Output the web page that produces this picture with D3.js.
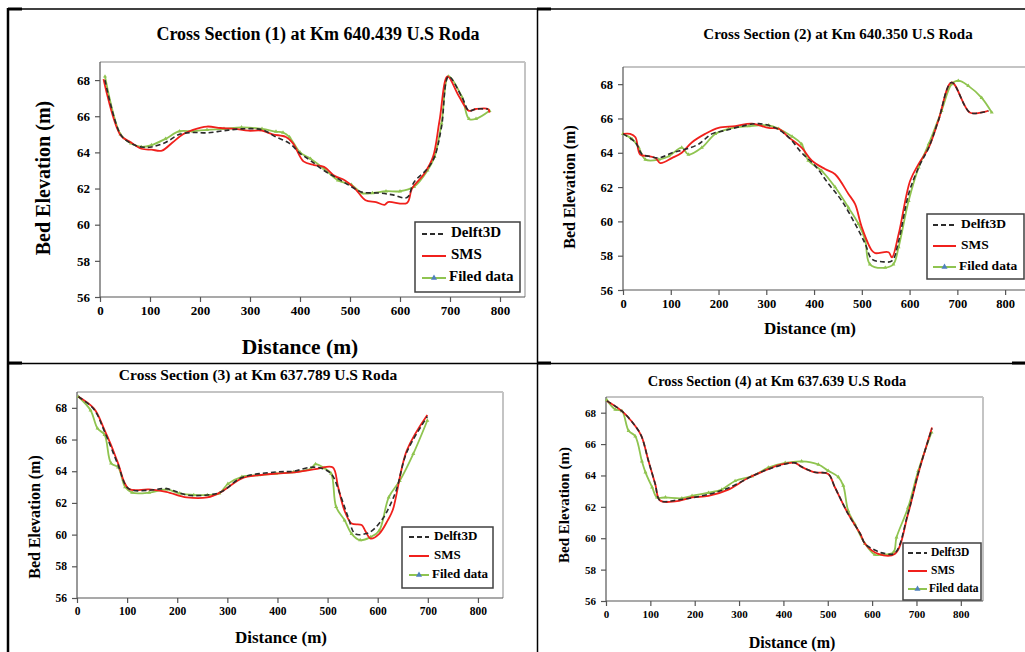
<!DOCTYPE html>
<html><head><meta charset="utf-8">
<script src="https://cdn.jsdelivr.net/npm/d3@7"></script>
<style>
html,body{margin:0;padding:0;background:#fff;}
svg{display:block;}
</style></head>
<body>
<svg id="c" width="1025" height="652"></svg>
<script>
// ---------- DATA ----------
const xTicks = [0,100,200,300,400,500,600,700,800];
const yTicks = [56,58,60,62,64,66,68];
const seriesNames = ["Delft3D","SMS","Filed data"];
const titles = [
  "Cross Section (1) at Km 640.439 U.S Roda",
  "Cross Section (2) at Km 640.350 U.S Roda",
  "Cross Section (3) at Km 637.789 U.S Roda",
  "Cross Section (4) at Km 637.639 U.S Roda"
];

// Cross section 1  [distance m, bed elevation m]
const cs1Field = [[10,68.2],[41,65.0],[62,64.5],[83,64.3],[103,64.4],[131,64.75],[159,65.17],[186,65.17],[214,65.25],[248,65.3],[283,65.38],[324,65.3],[352,65.15],[366,65.1],[379,64.85],[400,64.0],[421,63.65],[448,63.1],[476,62.45],[503,62.2],[524,61.75],[545,61.75],[572,61.85],[600,61.85],[628,62.1],[655,63.0],[669,63.75],[683,65.6],[697,68.2],[724,67.05],[738,65.85],[752,65.85],[779,66.3]];
const cs1Sms = [[7,68.05],[41,64.95],[62,64.55],[83,64.2],[103,64.15],[124,64.1],[145,64.55],[166,65.0],[186,65.25],[214,65.43],[241,65.35],[269,65.3],[297,65.2],[324,65.2],[345,65.0],[372,64.85],[386,64.5],[407,63.5],[428,63.3],[448,63.2],[469,62.7],[490,62.45],[510,62.0],[531,61.35],[552,61.25],[569,61.1],[576,61.25],[614,61.2],[624,62.0],[648,62.8],[666,63.75],[679,65.75],[695,68.2],[717,67.15],[738,66.3],[752,66.4],[776,66.4],[779,66.2]];
const cs1Delft = [[10,68.0],[41,65.0],[62,64.5],[83,64.3],[103,64.3],[131,64.55],[159,65.0],[186,65.1],[214,65.08],[248,65.2],[283,65.3],[324,65.25],[352,64.85],[379,64.5],[400,63.95],[421,63.55],[448,63.0],[476,62.55],[503,62.1],[524,61.8],[559,61.75],[586,61.65],[614,61.5],[628,62.35],[655,63.1],[669,63.75],[683,65.4],[697,68.2],[724,67.05],[738,66.3],[752,66.4],[776,66.4]];

// Cross section 2
const cs2Field = [[0,65.1],[19,64.8],[33,64.3],[47,63.6],[75,63.6],[96,63.8],[123,64.3],[137,63.9],[165,64.3],[193,65.1],[221,65.4],[263,65.55],[305,65.6],[326,65.4],[354,64.95],[374,64.5],[388,63.55],[416,62.95],[444,62.0],[472,60.8],[493,59.85],[507,58.9],[517,57.5],[549,57.3],[566,57.5],[577,58.5],[598,61.2],[619,63.15],[640,64.5],[667,66.45],[688,68.0],[702,68.2],[723,67.9],[751,67.2],[772,66.35]];
const cs2Sms = [[0,65.1],[15,65.1],[26,64.9],[36,63.9],[54,63.8],[68,63.7],[78,63.4],[103,63.7],[123,64.0],[144,64.6],[172,65.1],[200,65.45],[235,65.55],[270,65.7],[305,65.45],[326,65.4],[347,64.9],[374,64.3],[395,63.55],[423,63.05],[444,62.75],[472,61.6],[486,61.0],[500,59.65],[521,58.3],[528,58.15],[556,58.2],[563,57.9],[577,59.25],[601,62.35],[619,63.35],[640,64.3],[660,65.85],[688,68.1],[726,66.35],[751,66.35],[765,66.45]];
const cs2Delft = [[0,65.1],[26,64.6],[40,63.9],[54,63.8],[75,63.7],[103,64.0],[130,64.2],[158,64.5],[186,65.1],[214,65.3],[249,65.55],[284,65.7],[319,65.45],[347,64.9],[374,64.0],[402,63.25],[430,62.2],[458,61.2],[486,59.85],[507,58.7],[521,57.8],[542,57.65],[563,57.7],[577,58.85],[598,61.6],[619,63.15],[640,64.3],[660,65.85],[688,68.1],[726,66.35],[751,66.35],[765,66.45]];

// Cross section 3
const cs3Field = [[3,68.7],[27,67.85],[41,66.7],[55,66.3],[68,64.5],[82,64.25],[96,63.0],[110,62.65],[144,62.65],[178,62.85],[205,62.6],[233,62.5],[260,62.5],[284,62.6],[301,63.2],[329,63.65],[363,63.75],[397,63.85],[432,63.95],[466,64.15],[476,64.45],[493,64.2],[507,63.85],[517,61.75],[534,60.9],[548,60.05],[565,59.65],[586,59.85],[603,60.25],[622,62.35],[644,63.4],[671,65.1],[699,67.2]];
const cs3Sms = [[3,68.7],[34,67.95],[55,66.6],[68,65.65],[82,64.5],[103,62.9],[144,62.85],[178,62.7],[219,62.35],[260,62.35],[288,62.7],[329,63.55],[363,63.75],[397,63.85],[438,63.95],[479,64.15],[510,64.25],[521,63.0],[534,61.5],[548,60.7],[568,60.6],[575,60.25],[586,59.75],[603,60.05],[620,60.9],[630,61.55],[658,65.3],[699,67.55]];
const cs3Delft = [[3,68.7],[34,67.9],[55,66.5],[82,64.4],[103,62.9],[144,62.8],[178,62.9],[219,62.5],[260,62.5],[288,62.7],[329,63.6],[397,63.95],[432,64.0],[466,64.25],[486,64.2],[507,63.85],[527,62.35],[541,61.1],[555,60.05],[575,60.05],[589,60.25],[610,61.0],[623,61.75],[637,62.8],[658,65.2],[699,67.45]];

// Cross section 4
const cs4Field = [[2,68.8],[21,68.2],[36,68.1],[51,66.85],[66,66.5],[81,64.9],[89,64.2],[104,63.25],[115,62.6],[134,62.6],[171,62.55],[194,62.7],[231,62.9],[261,63.1],[291,63.65],[329,63.95],[366,64.5],[404,64.8],[441,64.9],[479,64.7],[501,64.3],[524,63.9],[535,63.35],[546,61.75],[561,60.9],[584,59.65],[606,58.95],[621,58.95],[648,59.1],[655,60.05],[681,61.95],[704,64.3],[734,66.75]];
const cs4Sms = [[2,68.75],[36,68.1],[66,67.15],[80,66.5],[96,64.9],[111,63.45],[122,62.4],[156,62.35],[194,62.6],[231,62.7],[276,63.1],[321,63.85],[366,64.4],[396,64.7],[426,64.8],[441,64.55],[471,64.2],[501,64.1],[516,63.25],[546,61.55],[573,60.3],[584,59.65],[614,59.0],[651,59.0],[681,61.55],[704,64.1],[735,67.05]];
const cs4Delft = [[2,68.75],[36,68.1],[66,67.15],[80,66.5],[96,64.9],[111,63.45],[122,62.4],[164,62.45],[231,62.8],[276,63.2],[329,63.95],[366,64.4],[426,64.8],[441,64.55],[471,64.2],[501,64.1],[516,63.25],[546,61.55],[573,60.3],[584,59.65],[606,59.25],[625,59.05],[651,59.05],[681,61.6],[704,64.15],[735,67.0]];

// ---------- LAYOUT ----------
const FONT = "'Liberation Serif', 'Times New Roman', 'DejaVu Serif', serif";
const panels = [
  {title:titles[0], data:[cs1Delft,cs1Sms,cs1Field], L:100,R:525,T:62,B:297, tx:318,ty:40,tfs:18, tick:13,
   yt:{x:45,y:178,fs:20}, xt:{x:300,y:354,fs:21.5},
   leg:{x0:415,y0:222,x1:520,y1:292, ys:[234,256,278], lx0:422,lx1:446, tx:451, fs:15}},
  {title:titles[1], data:[cs2Delft,cs2Sms,cs2Field], L:623,R:1029,T:67,B:290, tx:838,ty:39,tfs:15, tick:12.5,
   yt:{x:571,y:187,fs:16}, xt:{x:810,y:334,fs:17},
   leg:{x0:927,y0:214,x1:1024,y1:279, ys:[225,246,267], lx0:933,lx1:956, tx:961, fs:13.5}},
  {title:titles[2], data:[cs3Delft,cs3Sms,cs3Field], L:77,R:503,T:392,B:598, tx:258,ty:380,tfs:15.5, tick:11.5,
   yt:{x:36,y:517,fs:16}, xt:{x:281,y:643,fs:17},
   leg:{x0:402,y0:527,x1:493,y1:588, ys:[537,556,575], lx0:409,lx1:429, tx:434, fs:13}},
  {title:titles[3], data:[cs4Delft,cs4Sms,cs4Field], L:606,R:983,T:397,B:601, tx:777,ty:386,tfs:14.4, tick:11,
   yt:{x:566,y:505,fs:15}, xt:{x:792,y:648,fs:16},
   leg:{x0:903,y0:543,x1:981,y1:600, ys:[553,571,589], lx0:908,lx1:927, tx:931, fs:11.5}}
];

const styles = [
  {stroke:"#2b2b2b", width:1.6, dash:"5,3"},
  {stroke:"#f0201c", width:1.8, dash:null},
  {stroke:"#8fc450", width:1.8, dash:null}
];

const svg = d3.select("#c");

// table grid lines
const grid = svg.append("g").attr("stroke","#000");
grid.append("line").attr("x1",8).attr("x2",1025).attr("y1",9).attr("y2",9).attr("stroke-width",1.5);
grid.append("line").attr("x1",8).attr("x2",8).attr("y1",8).attr("y2",652).attr("stroke-width",2.5);
grid.append("line").attr("x1",537.5).attr("x2",537.5).attr("y1",9).attr("y2",652).attr("stroke-width",1.5);
grid.append("line").attr("x1",8).attr("x2",1025).attr("y1",363.5).attr("y2",363.5).attr("stroke-width",1.5);
[[8,22,9],[537,551,9],[8,22,363],[537,551,363],[1012,1025,363]].forEach(s=>{
  grid.append("line").attr("x1",s[0]).attr("x2",s[1]).attr("y1",s[2]).attr("y2",s[2]).attr("stroke-width",3);
});

function txt(sel){ return sel.attr("font-family",FONT).attr("font-weight","bold").attr("fill","#000"); }

panels.forEach(p=>{
  const x = d3.scaleLinear().domain([0,850]).range([p.L,p.R]);
  const y = d3.scaleLinear().domain([56,69]).range([p.B,p.T]);
  const g = svg.append("g");

  // frame top/right (light gray)
  g.append("line").attr("x1",p.L).attr("x2",p.R).attr("y1",p.T).attr("y2",p.T).attr("stroke","#c4c4c4").attr("stroke-width",2);
  g.append("line").attr("x1",p.R).attr("x2",p.R).attr("y1",p.T).attr("y2",p.B).attr("stroke","#c4c4c4").attr("stroke-width",2);

  // axes
  const ax = g.append("g").attr("transform",`translate(0,${p.B})`)
    .call(d3.axisBottom(x).tickValues(xTicks).tickSize(5).tickPadding(4).tickFormat(d3.format("d")));
  const ay = g.append("g").attr("transform",`translate(${p.L},0)`)
    .call(d3.axisLeft(y).tickValues(yTicks).tickSize(5).tickPadding(5).tickFormat(d3.format("d")));
  [ax,ay].forEach(a=>{
    a.attr("font-family",FONT);
    a.select(".domain").attr("stroke","#555").attr("stroke-width",1.2);
    a.selectAll(".tick line").attr("stroke","#555").attr("stroke-width",1.2);
    txt(a.selectAll(".tick text")).attr("font-size",p.tick);
  });
  ax.select(".domain").attr("d",`M${p.L},0H${p.R}`);
  ay.select(".domain").attr("d",`M0,${p.B}V${p.T}`);

  // series
  const line = d3.line().x(d=>x(d[0])).y(d=>y(d[1])).curve(d3.curveCatmullRom.alpha(0.5));
  [2,1,0].forEach(i=>{
    const s = styles[i];
    g.append("path").datum(p.data[i]).attr("d",line).attr("fill","none")
      .attr("stroke",s.stroke).attr("stroke-width",s.width).attr("stroke-dasharray",s.dash)
      .attr("stroke-linejoin","round");
    if(i===2){
      g.selectAll(null).data(p.data[i]).enter().append("path")
        .attr("d",d3.symbol(d3.symbolTriangle,7)())
        .attr("transform",d=>`translate(${x(d[0])},${y(d[1])})`)
        .attr("fill","#8fc450");
    }
  });

  // titles
  txt(g.append("text")).attr("x",p.tx).attr("y",p.ty).attr("text-anchor","middle").attr("font-size",p.tfs).text(p.title);
  txt(g.append("text")).attr("transform",`translate(${p.yt.x},${p.yt.y}) rotate(-90)`).attr("text-anchor","middle")
    .attr("dominant-baseline","middle").attr("font-size",p.yt.fs).text("Bed Elevation (m)");
  txt(g.append("text")).attr("x",p.xt.x).attr("y",p.xt.y).attr("text-anchor","middle").attr("font-size",p.xt.fs).text("Distance (m)");

  // legend
  const lg = p.leg;
  g.append("rect").attr("x",lg.x0).attr("y",lg.y0).attr("width",lg.x1-lg.x0).attr("height",lg.y1-lg.y0)
    .attr("fill","#fff").attr("stroke","#404040").attr("stroke-width",1.5);
  seriesNames.forEach((n,i)=>{
    const s = styles[i];
    const yy = lg.ys[i];
    g.append("line").attr("x1",lg.lx0).attr("x2",lg.lx1).attr("y1",yy).attr("y2",yy)
      .attr("stroke",s.stroke).attr("stroke-width",2).attr("stroke-dasharray",s.dash);
    if(i===2){
      g.append("path").attr("d",d3.symbol(d3.symbolTriangle,16)())
        .attr("transform",`translate(${(lg.lx0+lg.lx1)/2},${yy})`).attr("fill","#4f81bd");
    }
    txt(g.append("text")).attr("x",i===2?lg.tx-2:lg.tx).attr("y",yy).attr("dominant-baseline","middle")
      .attr("font-size",lg.fs).text(n);
  });
});
</script>
</body></html>
